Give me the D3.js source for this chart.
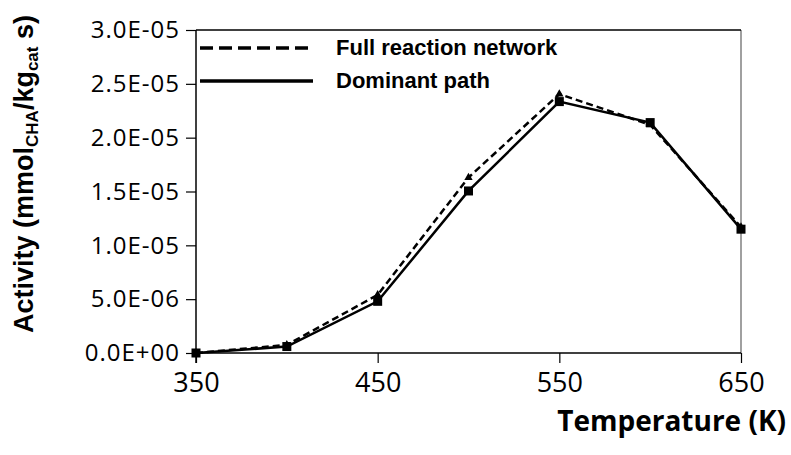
<!DOCTYPE html>
<html lang="en">
  <head>
    <meta charset="utf-8">
    <script src="https://d3js.org/d3.v7.min.js"></script>
    <style>
      body { margin: 0; background: #fff; }
      .tick text { font-family: "Open Sans", sans-serif; fill: #000; }
    </style>
  </head>
  <body>
    <script>
      // data
      var temps = [350, 400, 450, 500, 550, 600, 650];
      var fullNetwork = [0, 7.5e-7, 5.4e-6, 1.63e-5, 2.405e-5, 2.12e-5, 1.17e-5];
      var dominantPath = [0, 6e-7, 4.8e-6, 1.505e-5, 2.335e-5, 2.14e-5, 1.15e-5];
      var xTicks = [350, 450, 550, 650];
      var yTicks = [0, 5e-6, 1e-5, 1.5e-5, 2e-5, 2.5e-5, 3e-5];

      var w = 791, h = 455;
      var plotLeft = 196, plotRight = 741, plotTop = 30, plotBottom = 353;

      var svg = d3.select("body").append("svg").attr("width", w).attr("height", h);

      var x = d3.scaleLinear().domain([350, 650]).range([plotLeft, plotRight]);
      var y = d3.scaleLinear().domain([0, 3e-5]).range([plotBottom, plotTop]);

      // right border (grey)
      svg.append("line").attr("x1", plotRight).attr("x2", plotRight).attr("y1", plotTop).attr("y2", plotBottom)
        .attr("stroke", "#808080").attr("stroke-width", 1.5);

      // y axis
      var yAxis = svg.append("g")
        .attr("transform", "translate(" + plotLeft + ",0)")
        .call(d3.axisLeft(y).tickValues(yTicks).tickSize(10).tickPadding(6)
          .tickFormat(function(d) {
            var s = d.toExponential(1).toUpperCase();
            // 5E-6 -> 5.0E-06
            return s.replace(/E([+-])(\d)$/, "E$10$2");
          }));
      yAxis.select(".domain").remove();
      yAxis.append("line").attr("x1", 0).attr("x2", 0).attr("y1", plotTop).attr("y2", plotBottom + 10)
        .attr("stroke", "#000").attr("stroke-width", 1.5);
      yAxis.selectAll(".tick line").attr("stroke", "#000").attr("stroke-width", 1.2);
      yAxis.selectAll(".tick text").style("font-size", "24px").style("letter-spacing", "1px");
      svg.append("line").attr("x1", plotLeft).attr("x2", plotRight).attr("y1", plotTop).attr("y2", plotTop)
        .attr("stroke", "#000").attr("stroke-width", 1.5);

      // x axis
      var xAxis = svg.append("g")
        .attr("transform", "translate(0," + plotBottom + ")")
        .call(d3.axisBottom(x).tickValues(xTicks).tickSize(10).tickPadding(10).tickFormat(d3.format("d")));
      xAxis.select(".domain").remove();
      xAxis.append("line").attr("x1", plotLeft).attr("x2", plotRight).attr("y1", 0).attr("y2", 0)
        .attr("stroke", "#000").attr("stroke-width", 1.5);
      xAxis.selectAll(".tick line").attr("stroke", "#000").attr("stroke-width", 1.2);
      xAxis.selectAll(".tick text").style("font-size", "27px");

      // lines
      var line = d3.line()
        .x(function(d, i) { return x(temps[i]); })
        .y(function(d) { return y(d); });

      svg.append("path").datum(fullNetwork).attr("d", line)
        .attr("fill", "none").attr("stroke", "#000").attr("stroke-width", 2.5)
        .attr("stroke-dasharray", "7,4");
      svg.append("path").datum(dominantPath).attr("d", line)
        .attr("fill", "none").attr("stroke", "#000").attr("stroke-width", 2.5);

      // markers
      svg.selectAll(".tri").data(fullNetwork).enter().append("path")
        .attr("class", "tri")
        .attr("transform", function(d, i) { return "translate(" + x(temps[i]) + "," + y(d) + ")"; })
        .attr("d", d3.symbol().type(d3.symbolTriangle).size(30))
        .attr("fill", "#000");
      svg.selectAll(".sq").data(dominantPath).enter().append("rect")
        .attr("class", "sq")
        .attr("x", function(d, i) { return x(temps[i]) - 4.5; })
        .attr("y", function(d) { return y(d) - 4.5; })
        .attr("width", 9).attr("height", 9)
        .attr("fill", "#000");

      // legend
      var legend = svg.append("g");
      legend.append("line").attr("x1", 200).attr("x2", 313).attr("y1", 48).attr("y2", 48)
        .attr("stroke", "#000").attr("stroke-width", 3.5).attr("stroke-dasharray", "13,6");
      legend.append("line").attr("x1", 200).attr("x2", 313).attr("y1", 81).attr("y2", 81)
        .attr("stroke", "#000").attr("stroke-width", 3.5);
      legend.append("text").attr("x", 336).attr("y", 55).text("Full reaction network")
        .attr("font-family", "Liberation Sans, Arial, sans-serif").attr("font-weight", "bold").attr("font-size", "22px");
      legend.append("text").attr("x", 336).attr("y", 88).text("Dominant path")
        .attr("font-family", "Liberation Sans, Arial, sans-serif").attr("font-weight", "bold").attr("font-size", "22px");

      // axis titles
      svg.append("text").attr("x", 786).attr("y", 431).attr("text-anchor", "end")
        .attr("font-family", "Open Sans, sans-serif").attr("font-weight", "bold").attr("font-size", "28px")
        .text("Temperature (K)");

      var yt = svg.append("text")
        .attr("transform", "translate(33,174) rotate(-90)")
        .attr("text-anchor", "middle")
        .attr("font-family", "Liberation Sans, Arial, sans-serif").attr("font-weight", "bold").attr("font-size", "27px");
      yt.append("tspan").text("Activity (mmol");
      yt.append("tspan").attr("font-size", "17px").attr("dy", 5).text("CHA");
      yt.append("tspan").attr("dy", -5).text("/kg");
      yt.append("tspan").attr("font-size", "17px").attr("dy", 5).text("cat");
      yt.append("tspan").attr("dy", -5).text(" s)");
    </script>
  </body>
</html>
